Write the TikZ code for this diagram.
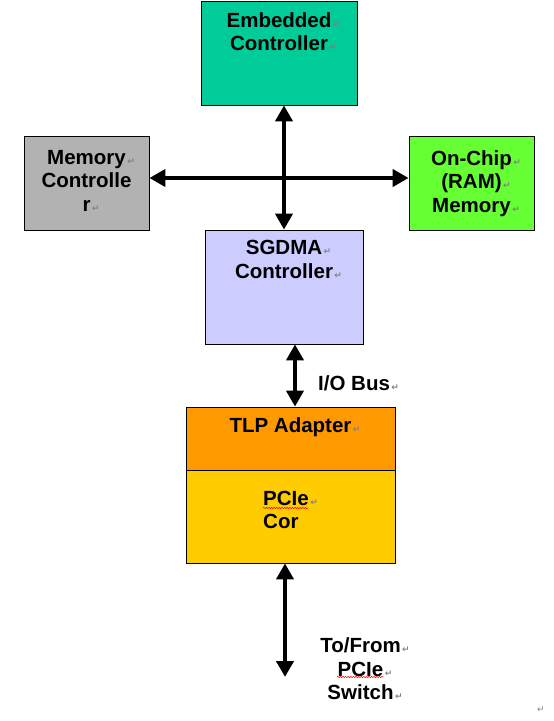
\documentclass[tikz,border=0pt]{standalone}
\usepackage{fontspec}
\setmainfont{Liberation Sans}
\newfontfamily\markfont{DejaVu Sans}
\usetikzlibrary{arrows.meta,positioning,decorations.pathmorphing}

\definecolor{ecgreen}{HTML}{00CC99}
\definecolor{mcgray}{HTML}{B2B2B2}
\definecolor{ramgreen}{HTML}{66FF33}
\definecolor{sglav}{HTML}{CCCCFF}
\definecolor{tlporange}{HTML}{FF9900}
\definecolor{coreyellow}{HTML}{FFCC00}

% paragraph mark
\newcommand\pmark{\rlap{\kern1.5pt\textcolor{gray}{\markfont\fontsize{9}{9}\selectfont ↵}}}

\tikzset{
  blk/.style={draw, line width=0.8pt, inner sep=0pt},
  txt/.style={font=\bfseries\fontsize{20.5}{23.5}\selectfont, align=center, inner sep=0pt},
  bus/.style={{Triangle[length=16pt,width=17pt]}-{Triangle[length=16pt,width=17pt]}, line width=4.2pt},
  spellwave/.style={red, line width=0.5pt, decorate, decoration={snake, amplitude=0.7pt, segment length=2.6pt}}
}

\begin{document}
\begin{tikzpicture}[x=1pt,y=-1pt]
\useasboundingbox (0,0) rectangle (554,721);

% blocks
\node[blk, fill=ecgreen, minimum width=156pt, minimum height=104pt] (ec) at (279,53) {};
\node[blk, fill=mcgray, minimum width=125pt, minimum height=94pt] (mc) at (86.5,183) {};
\node[blk, fill=ramgreen, minimum width=125pt, minimum height=94pt] (ram) at (471.5,183) {};
\node[blk, fill=sglav, minimum width=158pt, minimum height=114pt] (sg) at (284,287) {};
\node[blk, fill=tlporange, minimum width=209pt, minimum height=63pt] (tlp) at (290.5,438.5) {};
\node[blk, fill=coreyellow, minimum width=209pt, minimum height=93pt] (core) at (290.5,516.5) {};

% texts
\node[txt, anchor=north] (ectext) at ([yshift=-11.5pt]ec.north) {Embedded\pmark\\Controller\pmark};
\node[txt, anchor=north] (mctext) at ([yshift=-14.5pt]mc.north) {Memory\pmark\\Controlle\\r\pmark};
\node[txt, anchor=north] (ramtext) at ([yshift=-14.5pt]ram.north) {On-Chip\pmark\\(RAM)\pmark\\Memory\pmark};
\node[txt, anchor=north] (sgtext) at ([yshift=-10.5pt]sg.north) {SGDMA\pmark\\Controller\pmark};
\node[txt, anchor=north] (tlptext) at ([yshift=-10.5pt]tlp.north) {TLP Adapter\pmark};
\node[txt, anchor=north west, align=left] (coretext) at (263,490.5) {PCIe\pmark\\Cor};
\node[txt, anchor=base west] (iobus) at (318,390) {I/O Bus\pmark};
\node[txt, anchor=north] (swtext) at (360.5,637.5) {To/From\pmark\\PCIe\pmark\\Switch\pmark};
\node[inner sep=0pt, anchor=base, font=\markfont\fontsize{9}{9}\selectfont, text=gray] (endmark) at (541,712) {↵};

% spelling marks
\draw[spellwave] ([yshift=-17.5pt]coretext.north west) -- ++(45,0);
\draw[spellwave] ([xshift=-23.5pt,yshift=-39.5pt]swtext.north) -- ++(46,0);

% buses
\coordinate (sw) at (285,677);
\draw[bus] (ec.south -| sg.north) -- (sg.north);
\draw[bus] ([yshift=5pt]mc.east) -- ([yshift=5pt]ram.west);
\draw[bus] ([xshift=11pt]sg.south) -- ([xshift=11pt]sg.south |- tlp.north);
\draw[bus] (core.south -| sw) -- (sw);
\end{tikzpicture}
\end{document}
